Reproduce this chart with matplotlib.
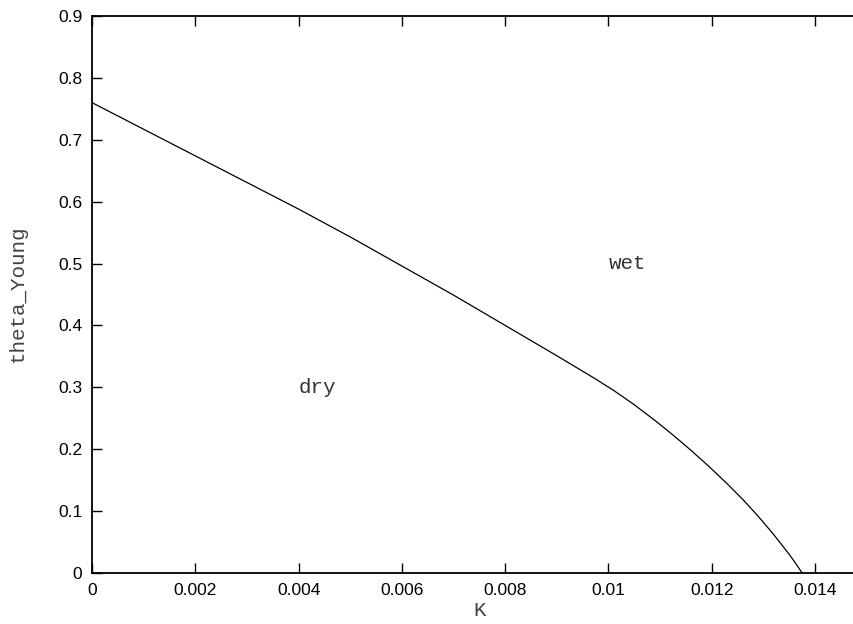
import matplotlib
matplotlib.use('Agg')
import matplotlib.pyplot as plt

# wetting transition line
k_values = [0.0, 0.001, 0.002, 0.003, 0.004, 0.005, 0.006, 0.007, 0.008,
            0.009, 0.00973, 0.0101, 0.01048, 0.0109, 0.011255, 0.0116,
            0.01196, 0.0123, 0.01261, 0.0129, 0.01319, 0.0135, 0.0136, 0.01375]
theta_young = [0.760, 0.717, 0.674, 0.631, 0.588, 0.543, 0.496, 0.449, 0.400,
               0.351, 0.3145, 0.295, 0.273, 0.2465, 0.2225, 0.198,
               0.171, 0.144, 0.118, 0.0915, 0.063, 0.030, 0.0185, 0.0]
x_ticks = [0, 0.002, 0.004, 0.006, 0.008, 0.01, 0.012, 0.014]
x_tick_labels = ['0', '0.002', '0.004', '0.006', '0.008', '0.01', '0.012', '0.014']
y_ticks = [0, 0.1, 0.2, 0.3, 0.4, 0.5, 0.6, 0.7, 0.8, 0.9]
y_tick_labels = ['0', '0.1', '0.2', '0.3', '0.4', '0.5', '0.6', '0.7', '0.8', '0.9']

fig = plt.figure(figsize=(8.54, 6.24), dpi=100)
# axes run past the right edge, as in the gnuplot output
ax = fig.add_axes([92 / 854, 51 / 624, 774.75 / 854, 557 / 624])

ax.plot(k_values, theta_young, color='black', linewidth=0.9)

ax.set_xlim(0, 0.015)
ax.set_ylim(0, 0.9)
ax.set_xticks(x_ticks)
ax.set_xticklabels(x_tick_labels)
ax.set_yticks(y_ticks)
ax.set_yticklabels(y_tick_labels)

for lab in ax.get_xticklabels() + ax.get_yticklabels():
    lab.set_family('Liberation Sans')
    lab.set_fontsize(12.5)

ax.tick_params(direction='in', length=7, width=1, top=True, right=False,
               pad=7, colors='black')
for side in ['left', 'bottom', 'top']:
    ax.spines[side].set_linewidth(1.3)
ax.spines['right'].set_visible(False)

mono = 'Liberation Mono'
ax.set_xlabel('K', family=mono, fontsize=15, color='#444444', labelpad=2)
ax.set_ylabel('theta_Young', family=mono, fontsize=15, color='#444444', labelpad=22)

ax.text(0.004, 0.3, 'dry', family=mono, fontsize=15, va='center', ha='left',
        color='#333333')
ax.text(0.01, 0.5, 'wet', family=mono, fontsize=15, va='center', ha='left',
        color='#333333')

fig.savefig('out.png', dpi=100)
